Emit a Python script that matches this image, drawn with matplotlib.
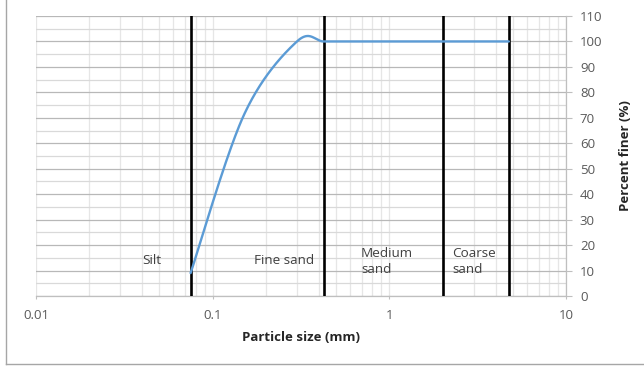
import numpy as np
import matplotlib
matplotlib.use("Agg")
import matplotlib.pyplot as plt
from matplotlib.lines import Line2D
from matplotlib.ticker import LogLocator, FixedLocator, NullFormatter

# Grain size distribution (sieve sizes in mm, percent passing)
sieve_mm = [0.075, 0.15, 0.3, 0.425, 0.6, 1.18, 2.0, 4.75]
percent_finer = [9, 71, 100, 100, 100, 100, 100, 100]

# Soil class boundaries (mm) and their labels
boundaries_mm = [0.075, 0.425, 2.0, 4.75]
class_labels = ["Silt", "Fine sand", "Medium\nsand", "Coarse\nsand"]
label_x = [0.0452, 0.255, 0.692, 2.26]
label_y = [13.9, 13.9, 13.6, 13.6]
label_ha = ["center", "center", "left", "left"]

x_ticks = [0.01, 0.1, 1, 10]
x_tick_labels = ["0.01", "0.1", "1", "10"]
y_ticks = list(range(0, 111, 10))

FONT = "Open Sans"
TICK_COLOR = "#595959"


def smooth_curve(xs, ys, n=60):
    """Piecewise cubic Bezier through the points in (log10 x, y) space."""
    u = np.log10(np.asarray(xs, float))
    y = np.asarray(ys, float)
    pts = np.column_stack([u, y])
    out = []
    m = len(pts)
    for i in range(m - 1):
        p0 = pts[i]
        p1 = pts[i + 1]
        pm = pts[i - 1] if i > 0 else p0
        pn = pts[i + 2] if i + 2 < m else p1
        c1 = p0 + (p1 - pm) / 6.0
        c2 = p1 - (pn - p0) / 6.0
        t = np.linspace(0, 1, n)[:, None]
        seg = ((1 - t) ** 3) * p0 + 3 * ((1 - t) ** 2) * t * c1 \
            + 3 * (1 - t) * t ** 2 * c2 + t ** 3 * p1
        out.append(seg if i == 0 else seg[1:])
    out = np.vstack(out)
    return 10 ** out[:, 0], out[:, 1]


W, H = 644, 367
fig = plt.figure(figsize=(W / 100, H / 100), dpi=100)
ax = fig.add_axes([36 / W, 1 - 296 / H, (566 - 36) / W, (296 - 16) / H])

ax.set_xscale("log")
ax.set_xlim(0.01, 10)
ax.set_ylim(0, 110)

# grid
ax.set_axisbelow(True)
ax.xaxis.set_major_locator(FixedLocator(x_ticks))
ax.xaxis.set_minor_locator(LogLocator(base=10, subs=np.arange(2, 10)))
ax.xaxis.set_minor_formatter(NullFormatter())
ax.set_xticklabels(x_tick_labels)
ax.yaxis.set_major_locator(FixedLocator(y_ticks))
ax.yaxis.set_minor_locator(FixedLocator(list(range(5, 110, 10))))

ax.grid(True, axis="x", which="both", color="#e6e6e6", linewidth=0.9)
ax.grid(True, axis="y", which="minor", color="#d9d9d9", linewidth=0.9)
ax.grid(True, axis="y", which="major", color="#b8b8b8", linewidth=0.9)

ax.yaxis.tick_right()
ax.yaxis.set_label_position("right")

for side in ("top", "left"):
    ax.spines[side].set_visible(False)
for side in ("bottom", "right"):
    ax.spines[side].set_color("#bfbfbf")
    ax.spines[side].set_linewidth(0.9)

ax.tick_params(axis="x", which="major", length=2.5, width=0.8, color="#bfbfbf",
               pad=7, labelsize=9.5, labelcolor=TICK_COLOR)
ax.tick_params(axis="x", which="minor", length=0)
ax.tick_params(axis="y", which="major", length=4, width=0.8, color="#bfbfbf",
               pad=6, labelsize=9.5, labelcolor=TICK_COLOR)
ax.tick_params(axis="y", which="minor", length=0)
for lab in ax.get_xticklabels() + ax.get_yticklabels():
    lab.set_fontfamily(FONT)

# class boundaries
for b in boundaries_mm:
    ax.axvline(b, color="black", linewidth=1.9, zorder=3)

# gradation curve
cx, cy = smooth_curve(sieve_mm, percent_finer)
ax.plot(cx, cy, color="#5B9BD5", linewidth=1.7, zorder=4, solid_capstyle="round")

for txt, x, y, ha in zip(class_labels, label_x, label_y, label_ha):
    ax.text(x, y, txt, ha=ha, va="center", fontsize=9.7, family=FONT,
            color="#404040", linespacing=1.3, zorder=5)

ax.set_xlabel("Particle size (mm)", fontsize=9.5, family=FONT,
              fontweight="bold", color="#262626", labelpad=6)
ax.set_ylabel("Percent finer (%)", fontsize=9.5, family=FONT,
              fontweight="bold", color="#262626", labelpad=12)

# chart frame
fig.add_artist(Line2D([5.5 / W, 5.5 / W], [1, 1 - 363.5 / H],
                      transform=fig.transFigure, color="#a6a6a6", linewidth=1))
fig.add_artist(Line2D([5.5 / W, 1], [1 - 363.5 / H, 1 - 363.5 / H],
                      transform=fig.transFigure, color="#a6a6a6", linewidth=1))

fig.savefig("out.png", dpi=100, facecolor="white")
